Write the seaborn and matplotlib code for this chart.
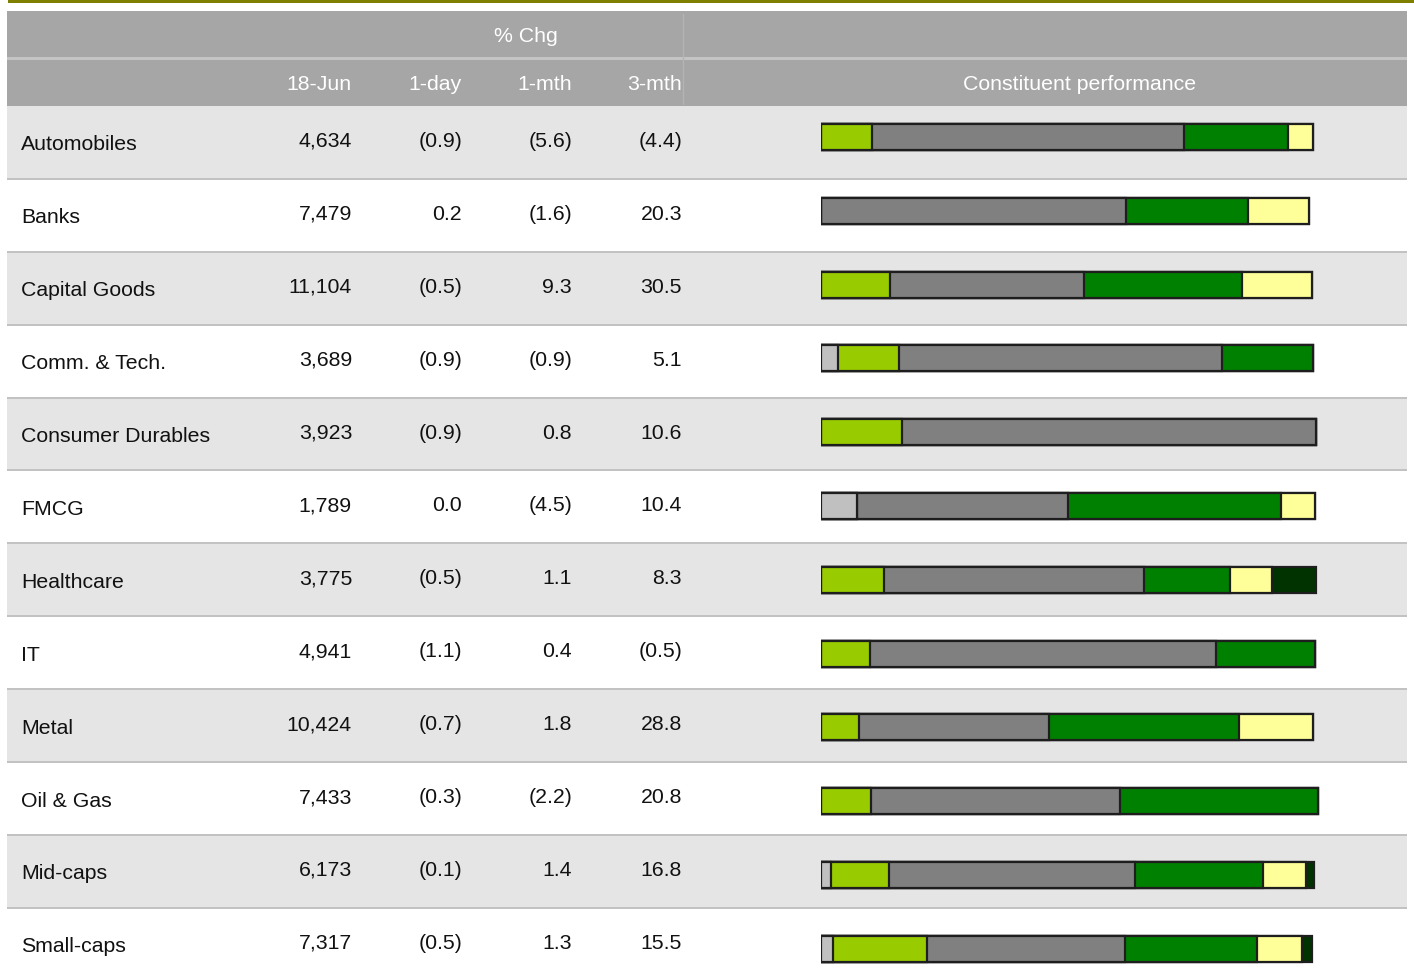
import matplotlib
matplotlib.use("Agg")
import matplotlib.pyplot as plt
from matplotlib.patches import Rectangle
import seaborn as sns
import numpy as np
import pandas as pd

sns.set_theme(style="white")
plt.rcParams['font.family'] = ['Liberation Sans', 'DejaVu Sans']

# ---------------- data ----------------
sectors = ["Automobiles", "Banks", "Capital Goods", "Comm. & Tech.", "Consumer Durables",
           "FMCG", "Healthcare", "IT", "Metal", "Oil & Gas", "Mid-caps", "Small-caps"]
level_18jun = [4634, 7479, 11104, 3689, 3923, 1789, 3775, 4941, 10424, 7433, 6173, 7317]
chg_1day = [-0.9, 0.2, -0.5, -0.9, -0.9, 0.0, -0.5, -1.1, -0.7, -0.3, -0.1, -0.5]
chg_1mth = [-5.6, -1.6, 9.3, -0.9, 0.8, -4.5, 1.1, 0.4, 1.8, -2.2, 1.4, 1.3]
chg_3mth = [-4.4, 20.3, 30.5, 5.1, 10.6, 10.4, 8.3, -0.5, 28.8, 20.8, 16.8, 15.5]

# constituent performance segments (relative widths)
seg_lightgray = [0, 0, 0, 17, 0, 36, 0, 0, 0, 0, 10, 12]
seg_lime      = [51, 0, 69, 61, 81, 0, 63, 49, 38, 50, 58, 94]
seg_gray      = [312, 305, 194, 323, 414, 211, 260, 346, 190, 249, 246, 198]
seg_green     = [104, 122, 158, 91, 0, 213, 86, 99, 190, 198, 128, 132]
seg_yellow    = [25, 61, 70, 0, 0, 34, 42, 0, 74, 0, 43, 45]
seg_darkgreen = [0, 0, 0, 0, 0, 0, 44, 0, 0, 0, 8, 10]

header_cols = ["18-Jun", "1-day", "1-mth", "3-mth"]
header_group = "% Chg"
header_bars = "Constituent performance"

segments = [seg_lightgray, seg_lime, seg_gray, seg_green, seg_yellow, seg_darkgreen]
seg_colors = ["#C0C0C0", "#99CC00", "#808080", "#008000", "#FFFF99", "#003300"]

# ---------------- figure ----------------
W, H = 1414, 976
fig = plt.figure(figsize=(W / 100, H / 100), dpi=100)
fig.patch.set_facecolor("white")
bg = fig.add_axes([0, 0, 1, 1])
bg.set_xlim(0, W)
bg.set_ylim(H, 0)
bg.axis("off")

left, right = 7, 1407
# olive top rule
bg.add_patch(Rectangle((8, 0), W - 8, 3, color="#808000", lw=0))
# header bands
bg.add_patch(Rectangle((left, 11), right - left, 46, color="#A6A6A6", lw=0))
bg.add_patch(Rectangle((left, 57), right - left, 2.5, color="#C4C4C4", lw=0))
bg.add_patch(Rectangle((left, 59.5), right - left, 46, color="#A6A6A6", lw=0))
bg.plot([683, 683], [14, 104], color="#B4B4B4", lw=1)

row_top0, row_h = 106, 72.9
n = len(sectors)
for i in range(n):
    top = row_top0 + i * row_h
    if i % 2 == 0:
        bg.add_patch(Rectangle((left, top), right - left, row_h, color="#E5E5E5", lw=0))
for i in range(1, n):
    top = round(row_top0 + i * row_h)
    bg.add_patch(Rectangle((left, top - 1), right - left, 2, color="#C2C2C2", lw=0))

fs = 15.3
txt_col = "#111111"


def fmt_pct(v):
    return f"({abs(v):.1f})" if v < 0 else f"{v:.1f}"


col_right = [352, 462, 572, 682]
for i in range(n):
    cy = row_top0 + i * row_h + row_h / 2
    bg.text(21, cy + 2.5, sectors[i], fontsize=fs, color=txt_col, ha="left", va="center")
    vals = [f"{level_18jun[i]:,}", fmt_pct(chg_1day[i]), fmt_pct(chg_1mth[i]), fmt_pct(chg_3mth[i])]
    for x, s in zip(col_right, vals):
        bg.text(x, cy - 1, s, fontsize=fs, color=txt_col, ha="right", va="center")

# headers
bg.text(526, 36.5, header_group, fontsize=fs, color="white", ha="center", va="center")
for x, s in zip(col_right, header_cols):
    bg.text(x, 84.5, s, fontsize=fs, color="white", ha="right", va="center")
bg.text(1080, 84.5, header_bars, fontsize=fs, color="white", ha="center", va="center")

# ---------------- stacked bars via seaborn ----------------
x0 = 821
axb = fig.add_axes([x0 / W, 0, (W - x0) / W, 1])
axb.patch.set_alpha(0)
cum = np.cumsum(np.array(segments, dtype=float), axis=0)
df = pd.DataFrame({"sector": sectors})
for k in range(len(segments) - 1, -1, -1):
    df["v"] = cum[k]
    sns.barplot(data=df, x="v", y="sector", orient="h", color=seg_colors[k],
                saturation=1, width=0.35, edgecolor="#1E1E1E", linewidth=1.6,
                ax=axb, errorbar=None)

y_first, y_step = 137.0, 73.8
axb.set_xlim(0, W - x0)
axb.set_ylim((H - y_first) / y_step, -y_first / y_step)
axb.axis("off")

fig.savefig("out.png", dpi=100, facecolor="white")
